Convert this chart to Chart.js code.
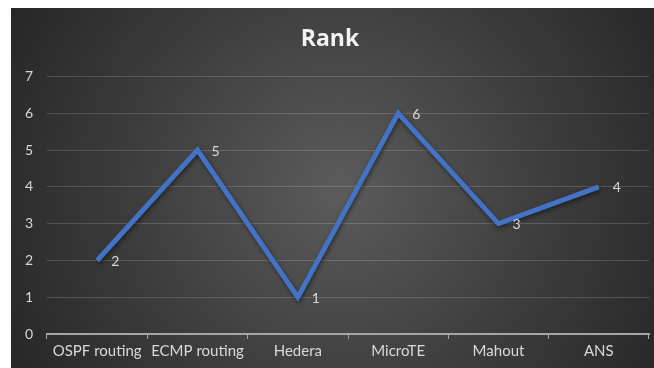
<!DOCTYPE html>
<html>
<head>
<meta charset="utf-8">
<script src="https://cdn.jsdelivr.net/npm/chart.js@4"></script>
<style>
  html, body { margin: 0; padding: 0; background: #fff; }
  #wrap { width: 654px; height: 368px; }
</style>
</head>
<body>
<div id="wrap"><canvas id="rankChart" width="654" height="368"></canvas></div>
<script>
// 数据
const categories = ['OSPF routing', 'ECMP routing', 'Hedera', 'MicroTE', 'Mahout', 'ANS'];
const rankValues = [2, 5, 1, 6, 3, 4];
const yTicks = [0, 1, 2, 3, 4, 5, 6, 7];

const FONT = 'Lato, "Open Sans", sans-serif';

// 深色渐变背景（左上留白）
const bgPlugin = {
    id: 'bg',
    beforeDraw(chart) {
        const { ctx, width, height } = chart;
        ctx.save();
        ctx.fillStyle = '#fff';
        ctx.fillRect(0, 0, width, height);
        const g = ctx.createRadialGradient(340, 190, 10, 340, 190, 380);
        g.addColorStop(0, '#5a5a5a');
        g.addColorStop(0.55, '#3c3c3c');
        g.addColorStop(1, '#262626');
        ctx.fillStyle = g;
        ctx.fillRect(11, 8, width - 11, height - 8);
        ctx.restore();
    }
};

// 线条阴影
const shadowPlugin = {
    id: 'lineShadow',
    beforeDatasetsDraw(chart) {
        const ctx = chart.ctx;
        ctx.save();
        ctx.shadowColor = 'rgba(0,0,0,0.5)';
        ctx.shadowBlur = 4;
        ctx.shadowOffsetX = 1;
        ctx.shadowOffsetY = 2;
    },
    afterDatasetsDraw(chart) {
        chart.ctx.restore();
    }
};

// 数据标签（点的右侧）
const labelPlugin = {
    id: 'pointLabels',
    afterDatasetsDraw(chart) {
        const ctx = chart.ctx;
        const meta = chart.getDatasetMeta(0);
        ctx.save();
        ctx.font = '14px ' + FONT;
        ctx.fillStyle = '#d9d9d9';
        ctx.textAlign = 'left';
        ctx.textBaseline = 'middle';
        meta.data.forEach((pt, i) => {
            ctx.fillText(String(rankValues[i]), pt.x + 14, pt.y + 1);
        });
        ctx.restore();
    }
};

new Chart(document.getElementById('rankChart'), {
    type: 'line',
    data: {
        labels: categories,
        datasets: [{
            label: 'Rank',
            data: rankValues,
            borderColor: '#4472c4',
            borderWidth: 5,
            pointRadius: 0,
            tension: 0,
            fill: false
        }]
    },
    options: {
        responsive: false,
        animation: false,
        devicePixelRatio: 1,
        layout: { padding: { left: 11, right: 5, top: 8, bottom: 0 } },
        plugins: {
            legend: { display: false },
            tooltip: { enabled: false },
            title: {
                display: true,
                text: 'Rank',
                color: '#f2f2f2',
                font: { family: '"Open Sans", Lato, sans-serif', size: 23, weight: 'bold' },
                padding: { top: 18, bottom: 23 }
            }
        },
        scales: {
            x: {
                offset: true,
                border: { display: true, color: '#a6a6a6', width: 2 },
                grid: {
                    offset: true,
                    drawOnChartArea: false,
                    drawTicks: true,
                    tickLength: 5,
                    color: '#a6a6a6',
                    lineWidth: 1
                },
                ticks: {
                    color: '#d9d9d9',
                    font: { family: FONT, size: 15 },
                    padding: 3,
                    maxRotation: 0,
                    autoSkip: false
                },
                afterFit(scale) { scale.height = 34; }
            },
            y: {
                min: 0,
                max: 7,
                border: { display: false },
                grid: {
                    color: 'rgba(255,255,255,0.16)',
                    lineWidth: 1,
                    drawTicks: false
                },
                ticks: {
                    stepSize: 1,
                    color: '#d9d9d9',
                    font: { family: FONT, size: 14 },
                    padding: 14,
                    callback: (v) => yTicks.includes(v) ? v : ''
                },
                afterFit(scale) { scale.width = 36; }
            }
        }
    },
    plugins: [bgPlugin, shadowPlugin, labelPlugin]
});
</script>
</body>
</html>
